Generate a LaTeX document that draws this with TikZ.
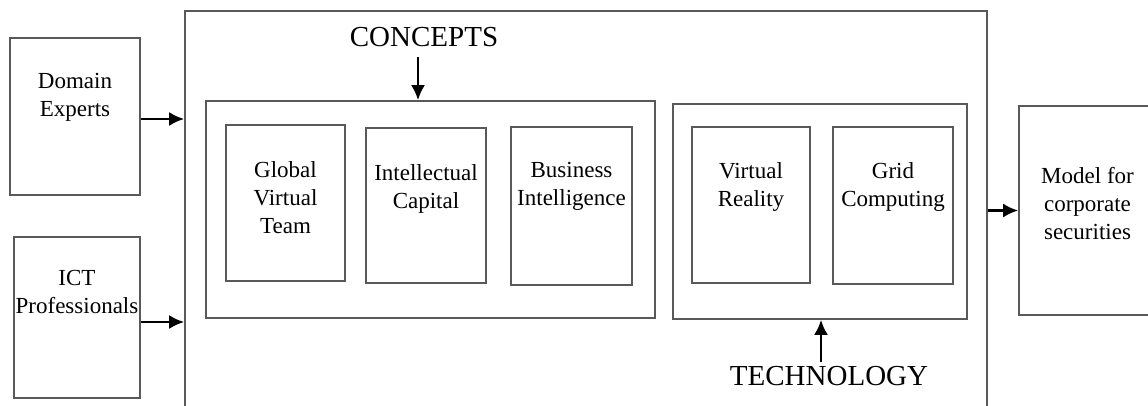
\documentclass[tikz,border=0pt]{standalone}
\usepackage{fontspec}
\setmainfont{Liberation Serif}
\usetikzlibrary{positioning,arrows.meta}
\begin{document}
\begin{tikzpicture}[x=1pt,y=-1pt,
  box/.style={draw=black!65,line width=1.6pt,rectangle,inner sep=0pt},
  txt/.style={inner sep=0pt,align=center,font=\fontsize{23}{28}\selectfont},
  big/.style={inner sep=0pt,font=\fontsize{29}{34}\selectfont},
  arr/.style={line width=2.6pt,-{Latex[length=15pt,width=14pt]}}]
\useasboundingbox (0,0) rectangle (1148,406);

% inputs
\node[box,minimum width=130pt,minimum height=157pt] (dom) at (75,116.5) {};
\node[box,minimum width=126pt,minimum height=161pt] (ict) at (77,317.5) {};
\node[txt,below=36pt of dom.north] (domtxt) {Domain\\Experts};
\node[txt,below=34pt of ict.north] (icttxt) {ICT\\Professionals};

% framework
\node[box,minimum width=802pt,minimum height=419pt] (outer) at (586,220.5) {};
\node[box,minimum width=449pt,minimum height=217pt] (conc) at (430.5,209.5) {};
\node[box,minimum width=294pt,minimum height=215pt] (tech) at (820,211.5) {};

\node[box,minimum width=119pt,minimum height=156pt] (gvt) at (285.5,203) {};
\node[box,minimum width=120pt,minimum height=155pt] (ic) at (426,205.5) {};
\node[box,minimum width=121pt,minimum height=158pt] (bi) at (571.5,206) {};
\node[box,minimum width=118pt,minimum height=156pt] (vr) at (751,205) {};
\node[box,minimum width=120pt,minimum height=157pt] (gc) at (893,205.5) {};

\node[txt,below=37pt of gvt.north] (gvttxt) {Global\\Virtual\\Team};
\node[txt,below=37pt of ic.north] (ictxt) {Intellectual\\Capital};
\node[txt,below=36pt of bi.north] (bitxt) {Business\\Intelligence};
\node[txt,below=36pt of vr.north] (vrtxt) {Virtual\\Reality};
\node[txt,below=36pt of gc.north] (gctxt) {Grid\\Computing};

\node[big,anchor=base] (conclbl) at (424,46.7) {CONCEPTS};
\node[big,anchor=base] (techlbl) at (829,385) {TECHNOLOGY};

% output
\node[box,minimum width=137pt,minimum height=209pt] (model) at (1087.5,210.5) {};
\node[txt,below=62pt of model.north] (modeltxt) {Model for\\corporate\\securities};

\coordinate (conctop) at (418,57);
\coordinate (techbot) at (821,362);

\draw[arr] (dom.east |- 0,119) -- (outer.west |- 0,119);
\draw[arr] (ict.east |- 0,322) -- (outer.west |- 0,322);
\draw[arr] (outer.east |- model.west) -- (model.west);
\draw[arr] (conctop) -- (conctop |- conc.north);
\draw[arr] (techbot) -- (techbot |- tech.south);
\end{tikzpicture}
\end{document}
